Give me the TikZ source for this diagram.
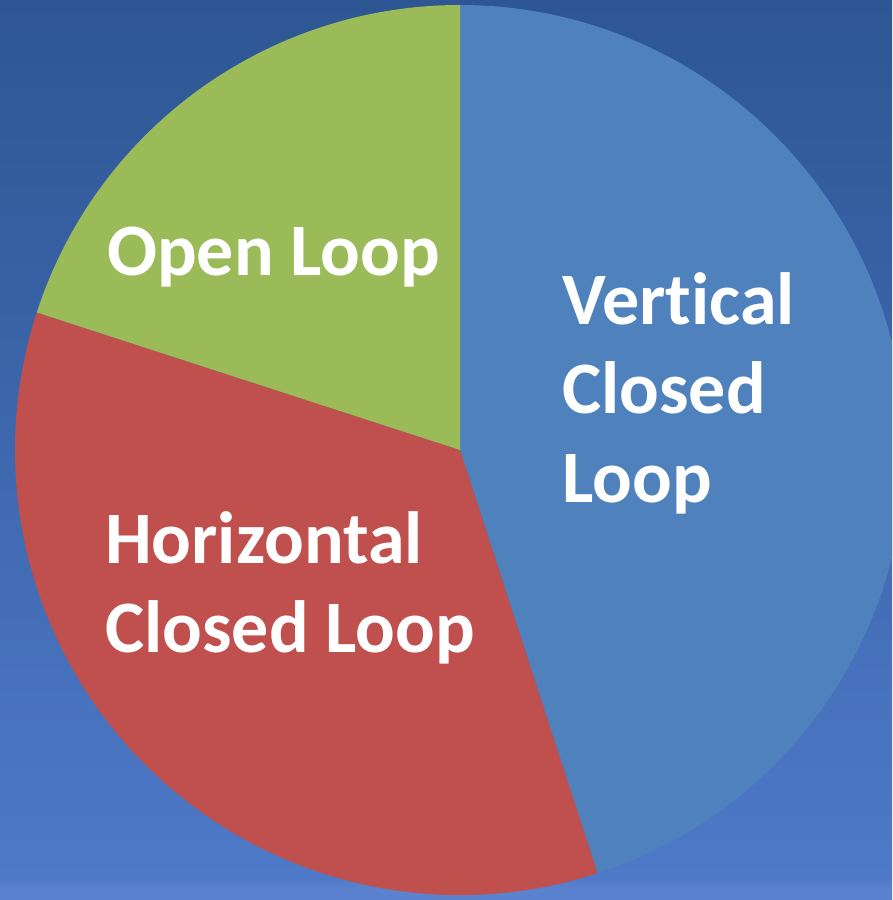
\documentclass[tikz,border=0pt]{standalone}
\usepackage{fontspec}
\setmainfont[Ligatures=NoCommon]{Carlito}
\usepackage{tikz}

\definecolor{bgtop}{HTML}{2D5693}
\definecolor{bgbot}{HTML}{4E79C8}
\definecolor{bglow}{HTML}{5B82CE}
\definecolor{vclblue}{HTML}{4F81BD}
\definecolor{hclred}{HTML}{C0504D}
\definecolor{olgreen}{HTML}{9BBB59}

\pgfdeclareverticalshading{backdrop}{100bp}{color(0bp)=(bglow); color(25.6bp)=(bglow);
  color(26.2bp)=(bgbot); color(75bp)=(bgtop); color(100bp)=(bgtop)}

\begin{document}
\begin{tikzpicture}[x=1pt,y=1pt,
                    slice/.style={draw=none},
                    label/.style={text=white,inner sep=0pt,align=left,
                                  font=\bfseries\fontsize{74}{89}\selectfont}]

  \shade[shading=backdrop] (0,0) rectangle (892,900);
  \begin{scope}
    \clip (0,0) rectangle (892,900);
    \coordinate (O) at (460,450);

    % slices
    \fill[slice,vclblue] (O) -- ++(90:445)  arc[start angle=90,  end angle=-72, radius=445] -- cycle;
    \fill[slice,hclred]  (O) -- ++(-72:445) arc[start angle=-72, end angle=-198,radius=445] -- cycle;
    \fill[slice,olgreen] (O) -- ++(162:445) arc[start angle=162, end angle=90,  radius=445] -- cycle;
  \end{scope}

  % labels (base = last line)
  \node[label,anchor=base west] (open)  at (107,624) {Open Loop};
  \node[label,anchor=base west] (vert)  at (562,397) {Vertical\\Closed\\Loop};
  \node[label,anchor=base west] (horiz) at (105,247) {Horizontal\\Closed Loop};
\end{tikzpicture}
\end{document}
